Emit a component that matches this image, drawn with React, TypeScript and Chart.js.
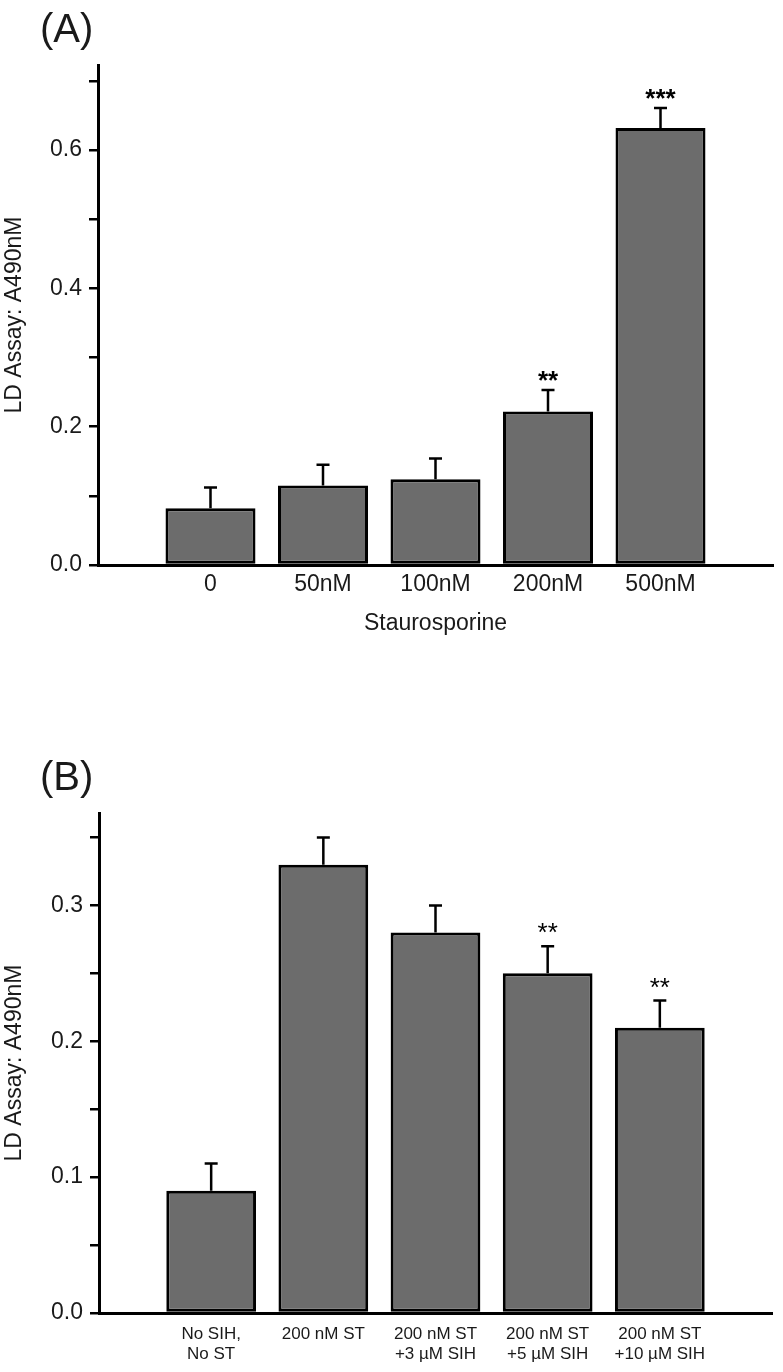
import React, { useEffect, useRef } from 'react';
import { Chart, registerables } from 'chart.js';

Chart.register(...registerables);

const FONT = '"Liberation Sans", Arial, Helvetica, sans-serif';
const TEXT = '#1a1a1a';
const BAR_FILL = '#6c6c6c';

// ---------- Panel A data ----------
const staurosporineLabels: (string | string[])[] = ['0', '50nM', '100nM', '200nM', '500nM'];
const staurosporineMeans = [0.082, 0.115, 0.124, 0.222, 0.632];
const staurosporineErrors = [0.03, 0.03, 0.03, 0.031, 0.029];
const staurosporineStars = ['', '', '', '**', '***'];

// ---------- Panel B data ----------
const sihLabels: (string | string[])[] = [
  ['No SIH,', 'No ST'],
  '200 nM ST',
  ['200 nM ST', '+3 µM SIH'],
  ['200 nM ST', '+5 µM SIH'],
  ['200 nM ST', '+10 µM SIH'],
];
const sihMeans = [0.09, 0.33, 0.28, 0.25, 0.21];
const sihErrors = [0.02, 0.02, 0.02, 0.02, 0.02];
const sihStars = ['', '', '', '**', '**'];

const yAxisTitle = 'LD Assay: A490nM';
const xAxisTitleA = 'Staurosporine';

const annotatePlugin = {
  id: 'annotate',
  afterDatasetsDraw(chart: any, _args: any, opts: any) {
    const { ctx } = chart;
    const meta = chart.getDatasetMeta(0);
    const yScale = chart.scales.y;
    const values = chart.data.datasets[0].data;
    ctx.save();
    ctx.strokeStyle = '#000';
    ctx.lineWidth = 2.5;
    ctx.lineCap = 'butt';
    meta.data.forEach((bar: any, i: number) => {
      const v = values[i];
      const e = opts.errors[i];
      if (v == null || e == null) return;
      const x = bar.x;
      const yTop = yScale.getPixelForValue(v + e);
      ctx.beginPath();
      ctx.moveTo(x, bar.y);
      ctx.lineTo(x, yTop);
      ctx.moveTo(x - opts.capHalf, yTop);
      ctx.lineTo(x + opts.capHalf, yTop);
      ctx.stroke();
      const s = opts.stars[i];
      if (s) {
        ctx.font = opts.starFont;
        ctx.fillStyle = '#000';
        ctx.textAlign = 'center';
        ctx.textBaseline = 'alphabetic';
        ctx.fillText(s, x, yTop - opts.starGap);
      }
    });
    ctx.restore();
  },
  afterDraw(chart: any, _args: any, opts: any) {
    const { ctx } = chart;
    ctx.save();
    ctx.font = opts.letterFont;
    ctx.fillStyle = TEXT;
    ctx.textAlign = 'left';
    ctx.textBaseline = 'alphabetic';
    ctx.fillText(opts.letter, opts.letterX, opts.letterY);
    ctx.restore();
  },
};

type PanelProps = {
  labels: (string | string[])[];
  means: number[];
  errors: number[];
  stars: string[];
  yMax: number;
  yStep: number;
  majorEvery: number; // in units of 1/100
  letter: string;
  letterY: number;
  xTitle?: string;
  height: number;
  areaTop: number;
  areaBottom: number;
  axisLeft: number;
  xFontSize: number;
  xLineHeight: number;
  xPadding: number;
  starFont: string;
  starGap: number;
};

function Panel(p: PanelProps) {
  const ref = useRef<HTMLCanvasElement | null>(null);
  useEffect(() => {
    if (!ref.current) return;
    const labels = ['', ...p.labels, ''];
    const data = [null, ...p.means, null];
    const errors = [null, ...p.errors, null];
    const stars = ['', ...p.stars, ''];
    const chart = new Chart(ref.current, {
      type: 'bar',
      data: {
        labels,
        datasets: [
          {
            data,
            backgroundColor: BAR_FILL,
            borderColor: '#000',
            borderWidth: 3,
            borderSkipped: false,
            barPercentage: 0.8,
            categoryPercentage: 1,
          },
        ],
      },
      options: {
        animation: false,
        responsive: false,
        maintainAspectRatio: false,
        layout: { padding: { top: p.areaTop, right: 10, bottom: 0, left: 0 } },
        plugins: {
          legend: { display: false },
          tooltip: { enabled: false },
          title: { display: false },
          annotate: {
            errors,
            stars,
            capHalf: 6.5,
            starFont: p.starFont,
            starGap: p.starGap,
            letter: p.letter,
            letterX: 40,
            letterY: p.letterY,
            letterFont: `40px ${FONT}`,
          },
        } as any,
        scales: {
          x: {
            type: 'category',
            offset: false,
            afterFit: (scale: any) => {
              scale.height = p.height - p.areaBottom;
            },
            grid: { display: false, drawTicks: false },
            border: { display: true, color: '#000', width: 3 },
            ticks: {
              autoSkip: false,
              maxRotation: 0,
              minRotation: 0,
              padding: p.xPadding,
              color: TEXT,
              font: { family: FONT, size: p.xFontSize, lineHeight: p.xLineHeight },
            },
            title: {
              display: !!p.xTitle,
              text: p.xTitle || '',
              color: TEXT,
              font: { family: FONT, size: 23, lineHeight: 1.2 },
              padding: { top: 0, bottom: 49 },
            },
          },
          y: {
            type: 'linear',
            min: 0,
            max: p.yMax,
            afterFit: (scale: any) => {
              scale.width = p.axisLeft;
            },
            grid: {
              display: true,
              drawOnChartArea: false,
              drawTicks: true,
              tickLength: 9,
              tickWidth: 2.5,
              tickColor: '#000',
              lineWidth: 2.5,
              color: '#000',
            },
            border: { display: true, color: '#000', width: 3 },
            ticks: {
              stepSize: p.yStep,
              includeBounds: false,
              autoSkip: false,
              padding: 7,
              color: TEXT,
              font: { family: FONT, size: 23 },
              callback: (v: any) => {
                const n = Math.round(Number(v) * 100);
                return n % p.majorEvery === 0 ? (n / 100).toFixed(1) : '';
              },
            },
            title: {
              display: true,
              text: yAxisTitle,
              color: TEXT,
              font: { family: FONT, size: 23, lineHeight: 1.2 },
              padding: { top: 1, bottom: 0 },
            },
          },
        },
      },
      plugins: [annotatePlugin as any],
    } as any);
    return () => chart.destroy();
  }, []);
  return (
    <canvas
      ref={ref}
      width={783}
      height={p.height}
      style={{ display: 'block', width: 783, height: p.height }}
    />
  );
}

export default function App() {
  return (
    <div
      style={{
        position: 'absolute',
        left: 0,
        top: 0,
        width: 783,
        height: 1372,
        background: '#ffffff',
        overflow: 'hidden',
      }}
    >
      <Panel
        labels={staurosporineLabels}
        means={staurosporineMeans}
        errors={staurosporineErrors}
        stars={staurosporineStars}
        yMax={0.723}
        yStep={0.1}
        majorEvery={20}
        letter="(A)"
        letterY={42}
        xTitle={xAxisTitleA}
        height={686}
        areaTop={65}
        areaBottom={565}
        axisLeft={98}
        xFontSize={23}
        xLineHeight={1.2}
        xPadding={6}
        starFont={`bold 26px ${FONT}`}
        starGap={1}
      />
      <Panel
        labels={sihLabels}
        means={sihMeans}
        errors={sihErrors}
        stars={sihStars}
        yMax={0.368}
        yStep={0.05}
        majorEvery={10}
        letter="(B)"
        letterY={104}
        height={686}
        areaTop={127}
        areaBottom={627}
        axisLeft={99}
        xFontSize={17}
        xLineHeight={1.18}
        xPadding={11}
        starFont={`26px ${FONT}`}
        starGap={5}
      />
    </div>
  );
}
